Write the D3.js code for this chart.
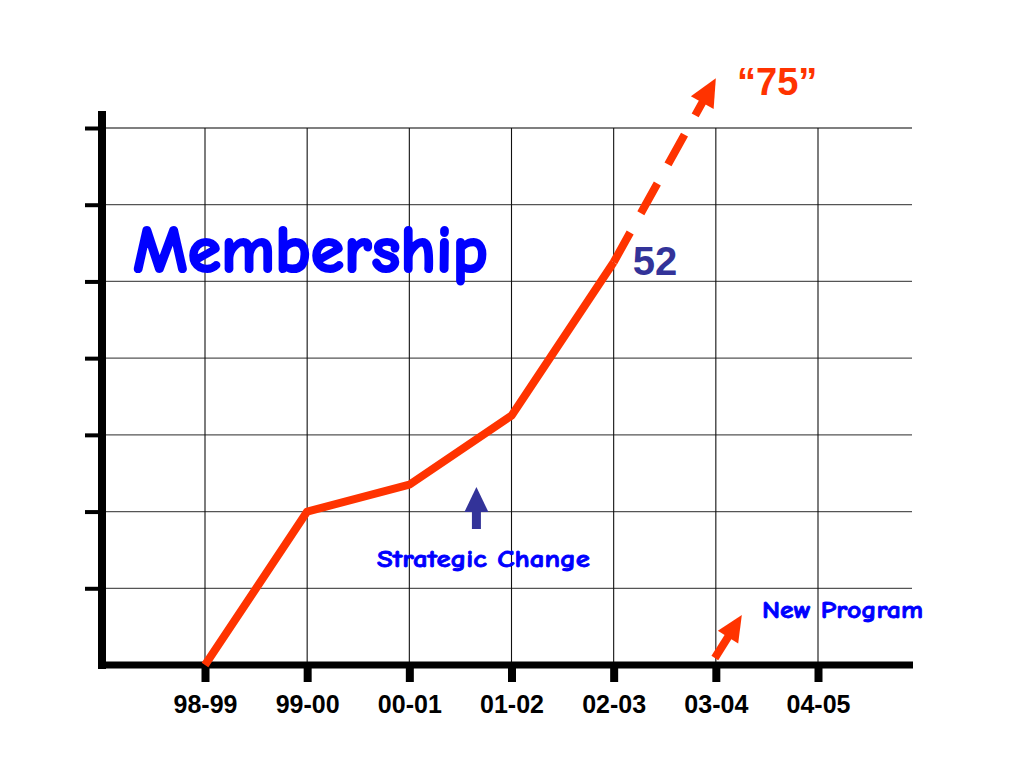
<!DOCTYPE html>
<html>
<head>
<meta charset="utf-8">
<script src="https://cdn.jsdelivr.net/npm/d3@7"></script>
<style>
  html, body { margin: 0; padding: 0; background: #fff; }
  svg { display: block; }
</style>
</head>
<body>
<svg id="chart" width="1024" height="768"></svg>
<script>
// ---- data ----
const categories = ["98-99", "99-00", "00-01", "01-02", "02-03", "03-04", "04-05"];
const membership = [0, 20, 23.5, 32.5, 52.5];          // actual, 98-99 .. 02-03
const projectedFrom = { cat: "02-03", value: 52.5 };
const projectedTo = { cat: "03-04", value: 76.5 };
const gridValues = [10, 20, 30, 40, 50, 60, 70];
const titleText = "Membership";
const lastLabel = "52";
const projectionLabel = "\u201C75\u201D";
const noteStrategic = "Strategic Change";
const noteProgram = "New Program";

const svg = d3.select("#chart");
const red = "#FF3300";
const blue = "#0000FF";
const navy = "#333399";

const x = d3.scalePoint().domain(categories).range([205, 818]);
const y = d3.scaleLinear().domain([0, 70]).range([665, 128]);

// gridlines
svg.append("g").selectAll("line").data(gridValues).join("line")
  .attr("x1", 106).attr("x2", 912)
  .attr("y1", d => y(d)).attr("y2", d => y(d))
  .attr("stroke", "#555").attr("stroke-width", 1.3);
svg.append("g").selectAll("line").data(categories).join("line")
  .attr("x1", d => x(d)).attr("x2", d => x(d))
  .attr("y1", y(70)).attr("y2", 662)
  .attr("stroke", "#111").attr("stroke-width", 1.1);

// left axis ticks
const leftAxis = svg.append("g").attr("transform", "translate(100,0)")
  .call(d3.axisLeft(y).tickValues(gridValues).tickSize(15).tickFormat(""));
leftAxis.select(".domain").remove();
leftAxis.selectAll(".tick line").attr("stroke", "#000").attr("stroke-width", 4);

// bottom axis
const bottomAxis = svg.append("g").attr("transform", "translate(0,665)")
  .call(d3.axisBottom(x).tickSize(17).tickPadding(13));
bottomAxis.select(".domain").remove();
bottomAxis.selectAll(".tick line").attr("stroke", "#000").attr("stroke-width", 8);
bottomAxis.selectAll(".tick text")
  .attr("fill", "#000")
  .style("font-family", "'Liberation Sans', Arial, Helvetica, sans-serif")
  .style("font-weight", "bold").style("font-size", "25px");

// thick axis lines
svg.append("line").attr("x1", 102).attr("x2", 102).attr("y1", 111).attr("y2", 669)
  .attr("stroke", "#000").attr("stroke-width", 8);
svg.append("line").attr("x1", 98).attr("x2", 913).attr("y1", 665).attr("y2", 665)
  .attr("stroke", "#000").attr("stroke-width", 7);

// actual line
const pts = membership.map((v, i) => [x(categories[i]), y(v)]);
svg.append("path")
  .attr("d", d3.line()(pts))
  .attr("fill", "none").attr("stroke", red).attr("stroke-width", 8)
  .attr("stroke-linejoin", "round");

// arrow helper
function arrow(x1, y1, x2, y2, headLen, headW, shaftW, color, dash) {
  const dx = x2 - x1, dy = y2 - y1, L = Math.hypot(dx, dy);
  const ux = dx / L, uy = dy / L, px = -uy, py = ux;
  const bx = x2 - ux * headLen, by = y2 - uy * headLen;
  const ln = svg.append("line").attr("x1", x1).attr("y1", y1)
    .attr("x2", bx + ux * 2).attr("y2", by + uy * 2)
    .attr("stroke", color).attr("stroke-width", shaftW);
  if (dash) ln.attr("stroke-dasharray", dash);
  svg.append("polygon")
    .attr("points", [[x2, y2], [bx + px * headW / 2, by + py * headW / 2], [bx - px * headW / 2, by - py * headW / 2]]
      .map(p => p.join(",")).join(" "))
    .attr("fill", color);
}

// projected dashed arrow
arrow(x(projectedFrom.cat), y(projectedFrom.value), x(projectedTo.cat), y(projectedTo.value),
  28, 26, 8, red, "34,22");

// strategic change arrow (navy, vertical)
const sx = (x("00-01") + x("01-02")) / 2 + 16;
arrow(sx, 529, sx, 487, 25, 24, 9, navy);

// new program arrow
arrow(x("03-04") - 1, 658, x("03-04") + 26, 615, 26, 24, 8, red);

// texts
const comic = "'Comic Sans MS', 'Comic Neue', 'DejaVu Sans', sans-serif";
svg.append("text").text(titleText)
  .attr("x", 133).attr("y", 272)
  .attr("textLength", 355).attr("lengthAdjust", "spacingAndGlyphs")
  .style("font-family", comic).style("font-weight", "bold").style("font-size", "66px")
  .attr("fill", blue).attr("stroke", blue).attr("stroke-width", 2.2).attr("stroke-linejoin", "round");

svg.append("text").text(lastLabel)
  .attr("x", x("02-03") + 19).attr("y", 275)
  .style("font-family", "'Liberation Sans', Arial, sans-serif").style("font-weight", "bold").style("font-size", "40px")
  .attr("fill", navy);

svg.append("text").text(projectionLabel)
  .attr("x", 737).attr("y", 95)
  .style("font-family", "'Liberation Sans', Arial, sans-serif").style("font-weight", "bold").style("font-size", "38px")
  .attr("fill", red);

svg.append("text").text(noteStrategic)
  .attr("x", 377).attr("y", 567)
  .attr("textLength", 213).attr("lengthAdjust", "spacingAndGlyphs")
  .style("font-family", comic).style("font-weight", "bold").style("font-size", "24px")
  .attr("fill", blue).attr("stroke", blue).attr("stroke-width", 0.8);

svg.append("text").text(noteProgram)
  .attr("x", 762).attr("y", 618)
  .attr("textLength", 161).attr("lengthAdjust", "spacingAndGlyphs")
  .style("font-family", comic).style("font-weight", "bold").style("font-size", "24px")
  .attr("fill", blue).attr("stroke", blue).attr("stroke-width", 0.8);
</script>
</body>
</html>
